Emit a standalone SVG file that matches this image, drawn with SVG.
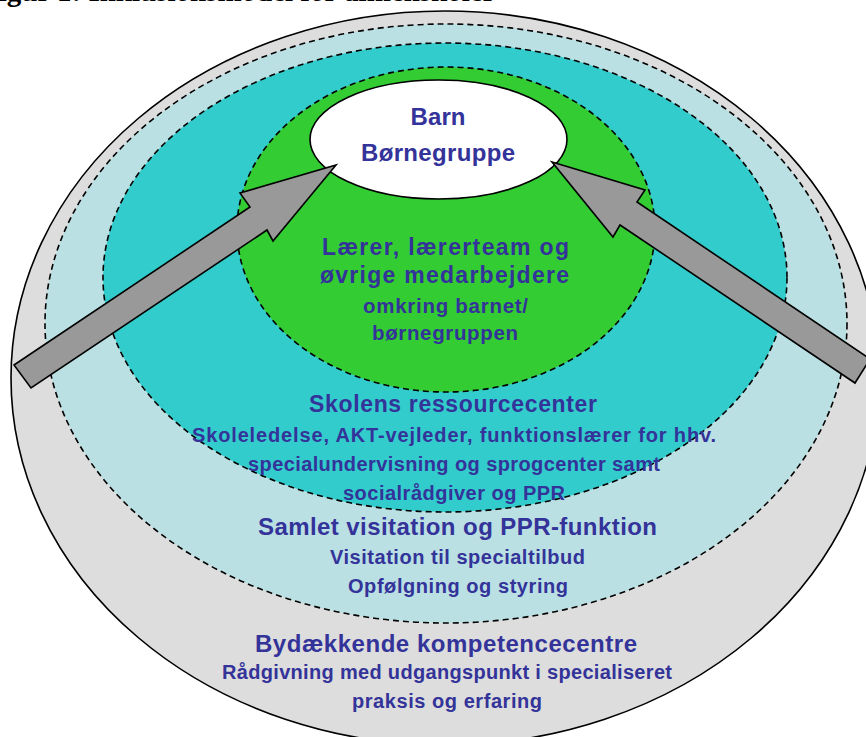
<svg xmlns="http://www.w3.org/2000/svg" width="866" height="737" viewBox="0 0 866 737">
<defs>
<style>
.ring{stroke:#000;stroke-width:1.6;stroke-dasharray:6 4}
.solid{stroke:#000;stroke-width:1.6}
.arrow{fill:#999999;stroke:#000;stroke-width:1.6;stroke-linejoin:miter}
.t{font-family:"Liberation Sans",Arial,sans-serif;font-weight:bold;fill:#333399;text-anchor:middle}
.title{font-family:"Liberation Serif","Times New Roman",serif;font-weight:bold;fill:#000}
</style>
<clipPath id="clipBorn"><rect x="300" y="320" width="300" height="24"/></clipPath>
</defs>
<rect width="866" height="737" fill="#fff"/>
<text class="title" x="-19" y="1" font-size="29">Figur 1: Inklusionsmodel for almenskoler</text>
<g id="ring-bydaekkende">
<ellipse class="solid" cx="445" cy="378" rx="434" ry="367" fill="#DDDDDD"/>
</g>
<g id="ring-visitation">
<ellipse class="ring" cx="446" cy="323.5" rx="401" ry="299.5" fill="#BAE0E4"/>
</g>
<g id="ring-ressourcecenter">
<ellipse class="ring" cx="445" cy="277.5" rx="342" ry="234.5" fill="#33CCCC"/>
</g>
<g id="ring-laerer">
<ellipse class="ring" cx="446" cy="229.5" rx="209" ry="162.5" fill="#33CC33"/>
</g>
<g id="node-barn">
<ellipse class="solid" cx="438.5" cy="139.5" rx="128.5" ry="59.5" fill="#FFFFFF"/>
</g>
<g id="connectors">
<polygon class="arrow" points="14,365 250,207 240,193 336,165 273,241 267,230 31,388"/>
<polygon class="arrow" points="870,359 637,202 645,190 552,162 613,237 620,225 855,383"/>
</g>
<g id="labels">
<text class="t" x="438" y="125" font-size="24" textLength="55" lengthAdjust="spacing">Barn</text>
<text class="t" x="438" y="161" font-size="24" textLength="154" lengthAdjust="spacing">Børnegruppe</text>
<text class="t" x="445.5" y="255" font-size="23" textLength="247" lengthAdjust="spacing">Lærer, lærerteam og</text>
<text class="t" x="444.5" y="283" font-size="23" textLength="249" lengthAdjust="spacing">øvrige medarbejdere</text>
<text class="t" x="445.5" y="313" font-size="20.5" textLength="165" lengthAdjust="spacing">omkring barnet/</text>
<text class="t" x="445" y="340" font-size="20.5" textLength="146" lengthAdjust="spacing" clip-path="url(#clipBorn)">børnegruppen</text>
<text class="t" x="453" y="412" font-size="23" textLength="288" lengthAdjust="spacing">Skolens ressourcecenter</text>
<text class="t" x="454" y="442" font-size="20" textLength="524" lengthAdjust="spacing">Skoleledelse, AKT-vejleder, funktionslærer for hhv.</text>
<text class="t" x="454" y="471" font-size="20" textLength="412" lengthAdjust="spacing">specialundervisning og sprogcenter samt</text>
<text class="t" x="454" y="500" font-size="20" textLength="222" lengthAdjust="spacing">socialrådgiver og PPR</text>
<text class="t" x="457.5" y="535" font-size="24" textLength="399" lengthAdjust="spacing">Samlet visitation og PPR-funktion</text>
<text class="t" x="457.5" y="564" font-size="20" textLength="255" lengthAdjust="spacing">Visitation til specialtilbud</text>
<text class="t" x="458" y="593" font-size="20" textLength="220" lengthAdjust="spacing">Opfølgning og styring</text>
<text class="t" x="446" y="652" font-size="24" textLength="382" lengthAdjust="spacing">Bydækkende kompetencecentre</text>
<text class="t" x="447" y="679" font-size="20" textLength="450" lengthAdjust="spacing">Rådgivning med udgangspunkt i specialiseret</text>
<text class="t" x="447" y="708" font-size="20" textLength="190" lengthAdjust="spacing">praksis og erfaring</text>
</g>
</svg>
